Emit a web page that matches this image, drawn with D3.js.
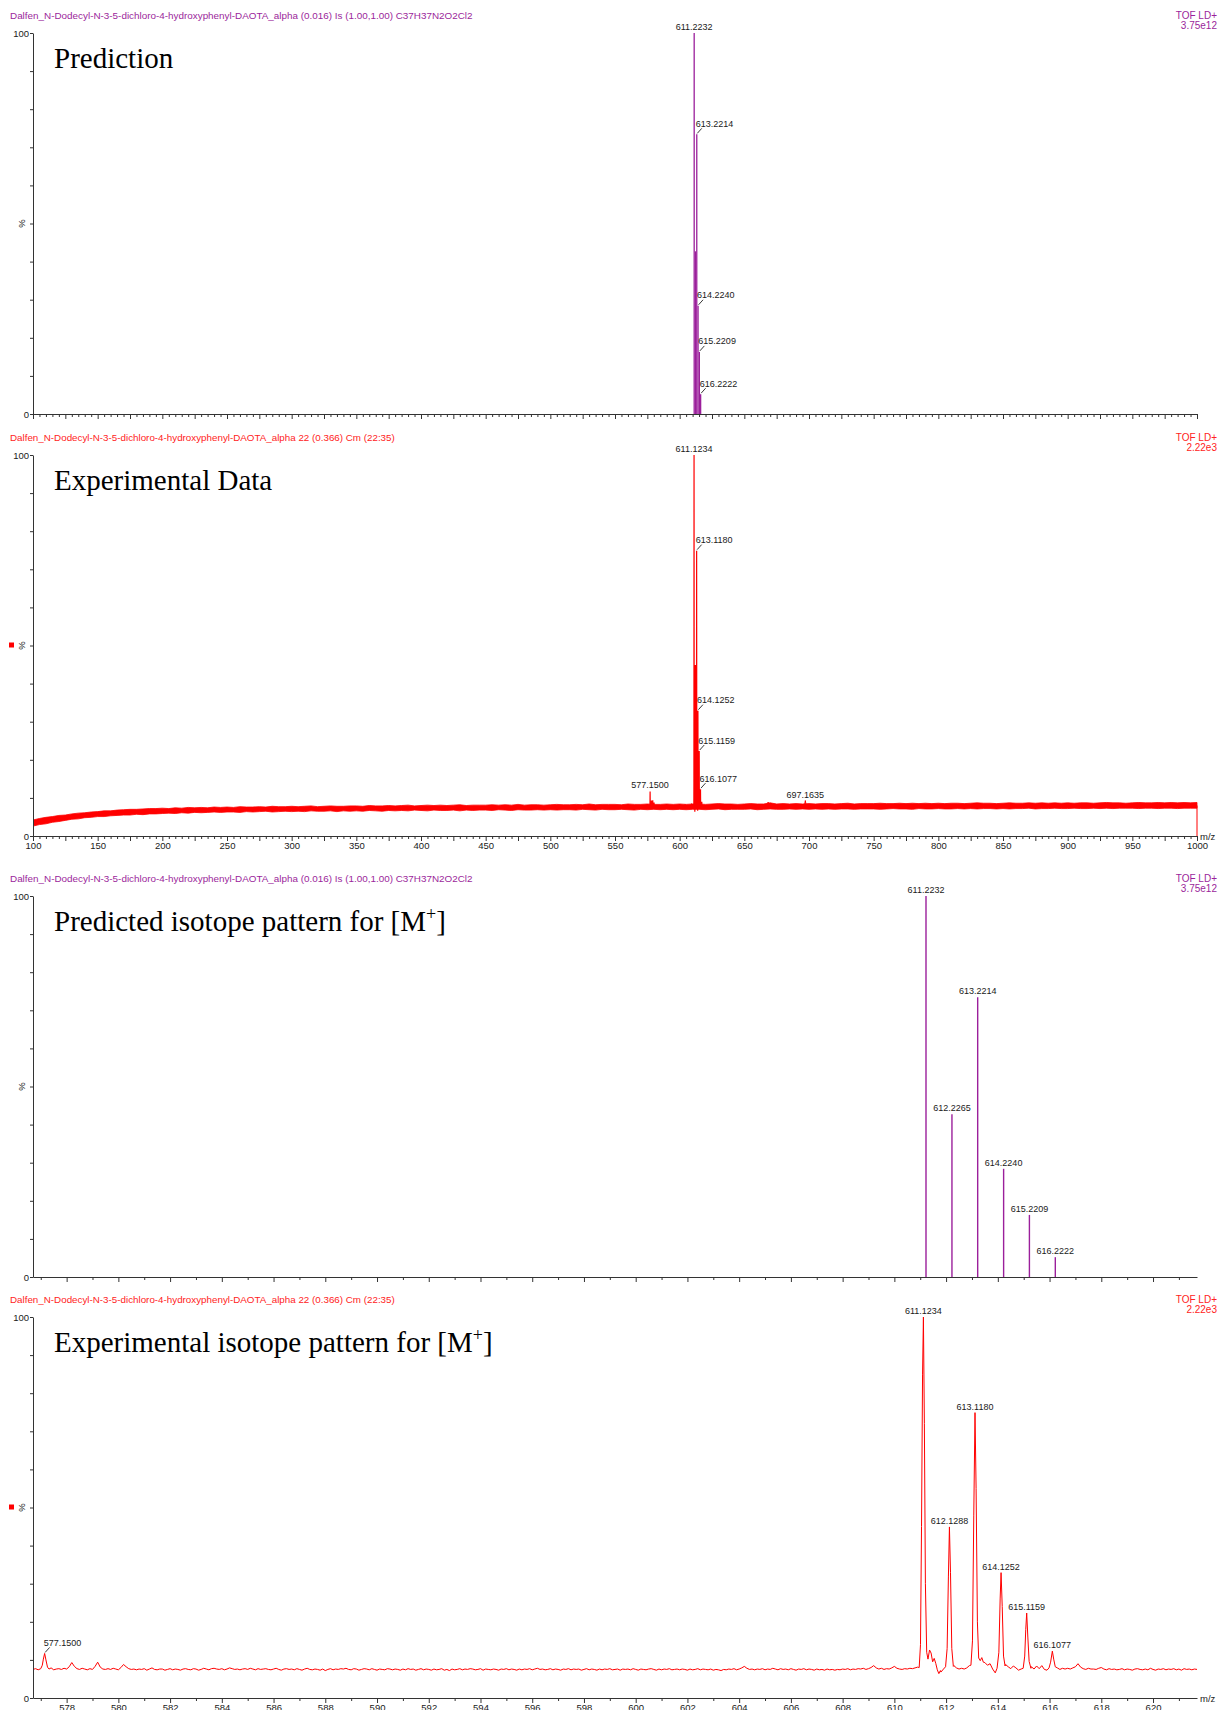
<!DOCTYPE html>
<html><head><meta charset="utf-8">
<script src="https://cdn.jsdelivr.net/npm/d3@7"></script>
<style>
body{margin:0;background:#fff;}
svg{display:block;background:#fff;}
</style>
</head><body>
<svg id="c" width="1219" height="1710"></svg>
<script>
// ---------------- DATA ----------------
const titlePred = "Dalfen_N-Dodecyl-N-3-5-dichloro-4-hydroxyphenyl-DAOTA_alpha  (0.016) Is (1.00,1.00) C37H37N2O2Cl2";
const titleExp = "Dalfen_N-Dodecyl-N-3-5-dichloro-4-hydroxyphenyl-DAOTA_alpha 22 (0.366) Cm (22:35)";
const predInfo = ["TOF LD+", "3.75e12"];
const expInfo = ["TOF LD+", "2.22e3"];
const panelNames = ["Prediction", "Experimental Data", "Predicted isotope pattern for [M", "Experimental isotope pattern for [M"];

const wideDomain = [100, 1000];
const zoomDomain = [576.7, 621.7];
const wideTickLabels = [100,150,200,250,300,350,400,450,500,550,600,650,700,750,800,850,900,950,1000];
const zoomTickLabels = [578,580,582,584,586,588,590,592,594,596,598,600,602,604,606,608,610,612,614,616,618,620];
const yTickValues = [0,10,20,30,40,50,60,70,80,90,100];

// predicted isotope pattern (sticks)
const predMz = [611.2232, 612.2265, 613.2214, 614.2240, 615.2209, 616.2222];
const predInt = [100, 42.7, 73.4, 28.4, 16.3, 5.2];
const predLabel = ["611.2232","612.2265","613.2214","614.2240","615.2209","616.2222"];

// experimental labelled peaks
const expPeakMz = [577.15, 611.1234, 612.1288, 613.1180, 614.1252, 615.1159, 616.1077, 697.1635];
const expPeakInt = [11.7, 100, 44.9, 74.9, 32.9, 22.3, 12.3, 9.3];
const expPeakLabel = ["577.1500","611.1234","612.1288","613.1180","614.1252","615.1159","616.1077","697.1635"];

// label styles per panel: c = centred above, l = leader line
const labelsP1 = {"611.2232":"c","613.2214":"l","614.2240":"l","615.2209":"l","616.2222":"l"};
const labelsP2 = {"577.1500":"c","611.1234":"c","613.1180":"l","614.1252":"l","615.1159":"l","616.1077":"l","697.1635":"c"};
const labelsP3 = {"611.2232":"c","612.2265":"c","613.2214":"c","614.2240":"c","615.2209":"c","616.2222":"c"};
const labelsP4 = {"577.1500":"l","611.1234":"c","612.1288":"c","613.1180":"c","614.1252":"c","615.1159":"c","616.1077":"c"};

// experimental profile, 576.7 .. 621.7 m/z, sampled every 0.1 (baseline noise, % intensity)
const expZoomStart = 576.7, expZoomStep = 0.1;
const expZoomBaseline = [
7.5,7.7,7.4,7.6,7.8,7.5,7.6,7.9,7.4,7.6,
7.7,7.5,7.8,7.6,8.2,9.3,8.3,7.7,7.5,7.8,
7.6,7.4,7.7,7.5,8.3,9.4,8.1,7.6,7.5,7.7,
7.5,7.8,7.6,7.4,8.0,8.8,8.2,7.7,7.5,7.6,
7.4,7.6,7.5,7.7,7.3,7.6,7.9,7.5,7.4,7.6,
7.6,7.3,7.5,7.7,7.4,7.6,7.5,7.3,7.6,7.7,
7.5,7.4,7.7,7.6,7.3,7.5,7.8,7.6,7.4,7.7,
7.8,7.6,7.5,7.7,7.4,7.6,7.9,7.7,7.5,7.6,
7.4,7.6,7.7,7.5,7.8,7.6,7.4,7.7,7.5,7.6,
7.7,7.5,7.4,7.6,7.8,7.5,7.3,7.6,7.7,7.5,
7.6,7.4,7.7,7.5,7.3,7.6,7.8,7.5,7.4,7.6,
7.5,7.3,7.6,7.2,7.5,7.7,7.4,7.6,7.5,7.7,
7.6,7.8,7.5,7.4,7.7,7.6,7.3,7.5,7.7,7.6,
7.4,7.7,7.5,7.3,7.6,7.5,7.4,7.7,7.6,7.4,
7.6,7.5,7.3,7.6,7.4,7.7,7.5,7.6,7.3,7.5,
7.7,7.4,7.6,7.5,7.3,7.6,7.4,7.5,7.7,7.3,
7.5,7.2,7.6,7.4,7.5,7.7,7.4,7.6,7.5,7.7,
7.6,7.4,7.5,7.7,7.3,7.6,7.5,7.4,7.6,7.5,
7.3,7.6,7.5,7.7,7.4,7.6,7.5,7.3,7.6,7.4,
7.6,7.5,7.7,7.4,7.6,7.8,7.5,7.6,7.4,7.5,
7.7,7.4,7.6,7.5,7.3,7.6,7.5,7.7,7.4,7.6,
7.5,7.6,7.3,7.5,7.7,7.4,7.6,7.5,7.3,7.6,
7.4,7.6,7.5,7.7,7.4,7.5,7.6,7.3,7.6,7.5,
7.6,7.4,7.7,7.5,7.3,7.6,7.5,7.4,7.6,7.7,
7.5,7.3,7.6,7.4,7.6,7.5,7.7,7.4,7.5,7.6,
7.4,7.6,7.5,7.3,7.6,7.4,7.5,7.7,7.4,7.6,
7.5,7.4,7.6,7.3,7.5,7.4,7.2,7.5,7.4,7.6,
7.5,7.7,7.4,7.6,7.9,8.3,7.8,7.5,7.6,7.4,
7.6,7.5,7.7,7.4,7.6,7.5,7.8,7.6,7.4,7.7,
7.5,7.6,7.4,7.7,7.5,7.3,7.6,7.5,7.7,7.4,
7.6,7.5,7.3,7.6,7.4,7.5,7.3,7.6,7.4,7.5,
7.3,7.5,7.4,7.6,7.5,7.7,7.4,7.6,7.5,7.7,
7.6,7.8,7.5,7.7,8.0,8.5,7.9,7.6,7.8,7.5,
7.7,7.6,7.9,8.3,7.8,7.6,7.5,7.7,7.6,7.8,
7.7,7.9,8.1,8.4,9.0,10,10,10,10,10,
7.0,6.8,7.6,9.0,40,20,8.5,7.9,7.6,7.8,
7.6,7.9,8.5,9.0,50,17,9.5,10.2,9.3,8.6,
9.0,7.6,6.6,8.5,30,20,8.8,8.2,7.7,8.4,
7.9,7.3,7.6,8.0,20,14,8.2,7.6,8.4,7.7,
8.5,7.5,7.3,8.2,12,10,7.9,7.5,7.8,7.6,
7.8,7.6,7.9,8.2,9.0,8.1,7.7,7.5,7.8,7.6,
7.6,7.5,7.8,8.0,7.6,7.4,7.7,7.5,7.6,7.4,
7.5,7.7,7.4,7.6,7.5,7.3,7.6,7.7,7.5,7.4,
7.6,7.4,7.8,7.5,7.3,7.6,7.5,7.7,7.4,7.6,
7.5,7.7,7.4,7.6,7.3,7.7,7.5,7.6,7.4,7.6,
7.5
];
// resolved peak profiles [m/z, %]
const expPeak577 = [[577.0,7.7],[577.06,8.6],[577.1,10.2],[577.15,11.7],[577.2,10.0],[577.26,8.1],[577.32,7.6]];
const expPeak611 = [[610.96,8.0],[611.01,14],[611.05,45],[611.09,85],[611.1234,100],[611.16,72],[611.2,30],[611.25,12],[611.3,10.2],[611.36,12.6],[611.42,11.8],[611.48,9.5],[611.54,10.4],[611.6,9.1],[611.66,7.4],[611.72,6.4],[611.78,7.2]];
const expPeak612 = [[611.98,8.2],[612.04,13],[612.09,32],[612.1288,44.9],[612.17,33],[612.22,13],[612.28,8.3]];
const expPeak613 = [[612.96,8.6],[613.02,15],[613.07,48],[613.118,74.9],[613.16,55],[613.21,20],[613.26,10.5],[613.32,9.8],[613.38,10.6],[613.44,9.4]];
const expPeak614 = [[613.97,7.8],[614.04,12],[614.09,26],[614.1252,32.9],[614.17,24],[614.22,11],[614.28,8.4]];
const expPeak615 = [[614.98,7.8],[615.04,11],[615.08,18],[615.1159,22.3],[615.16,16],[615.21,9.6],[615.28,7.8]];
const expPeak616 = [[615.98,7.9],[616.04,9.4],[616.1077,12.3],[616.16,10.2],[616.22,8.2]];

// full-range experimental noise band (every 5 m/z from 100 to 1000): lower / upper edge, %
const expFullStart = 100, expFullStep = 5;
const expFullLower = [
2.6,3.0,3.2,3.6,3.8,4.1,4.4,4.5,4.8,4.9,
5.1,5.1,5.3,5.4,5.5,5.5,5.7,5.6,5.8,5.8,
5.9,6.0,5.9,6.1,6.0,6.2,6.1,6.2,6.3,6.2,
6.3,6.3,6.2,6.4,6.3,6.4,6.5,6.3,6.4,6.5,
6.4,6.5,6.4,6.6,6.5,6.5,6.6,6.4,6.6,6.5,
6.6,6.5,6.7,6.6,6.5,6.7,6.6,6.7,6.6,6.8,
6.7,6.6,6.8,6.7,6.7,6.8,6.6,6.8,6.7,6.8,
6.8,6.7,6.9,6.8,6.7,6.9,6.8,6.8,6.9,6.8,
6.9,6.8,6.9,6.9,6.8,7.0,6.9,6.8,7.0,6.9,
6.9,7.0,6.9,6.8,7.0,6.9,7.0,6.9,7.0,6.9,
7.0,6.9,7.0,7.0,6.9,7.0,7.1,6.9,7.0,7.0,
7.0,7.1,6.9,7.0,7.1,7.0,7.0,7.1,7.0,7.1,
7.0,7.1,7.0,7.1,7.0,7.1,7.1,7.0,7.1,7.1,
7.1,7.0,7.1,7.2,7.1,7.1,7.0,7.2,7.1,7.1,
7.2,7.1,7.1,7.2,7.1,7.2,7.1,7.2,7.2,7.1,
7.2,7.1,7.2,7.2,7.3,7.1,7.2,7.2,7.3,7.2,
7.2,7.3,7.2,7.2,7.3,7.2,7.3,7.2,7.3,7.3,
7.3,7.2,7.3,7.3,7.2,7.3,7.3,7.2,7.3,7.3,
7.3];
const expFullUpper = [
4.2,4.6,4.9,5.1,5.4,5.5,5.8,6.0,6.1,6.3,
6.4,6.6,6.6,6.8,6.9,7.0,7.0,7.1,7.2,7.2,
7.3,7.2,7.4,7.3,7.5,7.4,7.5,7.4,7.6,7.5,
7.6,7.5,7.7,7.6,7.6,7.7,7.6,7.8,7.7,7.7,
7.8,7.7,7.8,7.9,7.7,7.8,7.9,7.8,7.8,7.9,
7.9,7.8,8.0,7.9,7.9,8.0,7.9,8.0,8.1,7.9,
8.0,8.1,8.0,8.1,8.0,8.1,8.2,8.0,8.1,8.1,
8.1,8.2,8.1,8.2,8.1,8.3,8.1,8.2,8.2,8.1,
8.2,8.3,8.2,8.2,8.3,8.2,8.4,8.2,8.3,8.3,
8.3,8.2,8.4,8.3,8.3,8.4,8.3,8.3,8.4,8.3,
8.4,8.3,8.4,8.4,8.3,8.4,8.5,8.4,8.4,8.3,
8.4,8.5,8.4,8.4,8.7,8.4,8.5,8.4,8.5,8.4,
8.5,8.4,8.5,8.5,8.4,8.5,8.6,8.4,8.5,8.5,
8.5,8.6,8.5,8.5,8.6,8.5,8.6,8.5,8.6,8.5,
8.6,8.5,8.6,8.6,8.5,8.6,8.7,8.6,8.6,8.5,
8.6,8.7,8.6,8.6,8.7,8.6,8.7,8.6,8.7,8.6,
8.7,8.6,8.7,8.7,8.6,8.7,8.8,8.7,8.7,8.6,
8.7,8.8,8.7,8.7,8.8,8.7,8.8,8.7,8.8,8.7,
8.8];
// isolated spikes above the noise band in the full spectrum [m/z, %]
const expFullSpikes = [[668.4, 8.9], [697.1635, 9.3]];
// signal drops to zero at the end of the acquired range
const expFullEnd = [[1000, 8.0], [1000, 0]];

// ---------------- DRAWING ----------------
const SANS = "'Liberation Sans', Arial, Helvetica, sans-serif";
const SERIF = "'Liberation Serif', 'Times New Roman', serif";
const C_PURPLE = "#9b1f9b", C_RED = "#ff0000", C_RED_T = "#ff2222", C_AXIS = "#333", C_TEXT = "#1a1a1a";
const X0 = 33, X1 = 1197, PH = 381;

const svg = d3.select("#c");

// build experimental zoom profile
const peakGroups = [expPeak577, expPeak611, expPeak612, expPeak613, expPeak614, expPeak615, expPeak616];
let expProfile = expZoomBaseline.map((v, i) => [+(expZoomStart + i * expZoomStep).toFixed(2), v]);
peakGroups.forEach(gr => {
  const lo = gr[0][0], hi = gr[gr.length - 1][0];
  expProfile = expProfile.filter(d => d[0] < lo || d[0] > hi);
  expProfile = expProfile.concat(gr);
});
expProfile.sort((a, b) => a[0] - b[0]);
const expBand = expFullLower.map((lo, i) => ({mz: expFullStart + i * expFullStep, lo, hi: expFullUpper[i]}));

const panels = [
  {top: 33, domain: wideDomain, color: C_PURPLE, titleColor: C_PURPLE, title: titlePred, titleW: 463, info: predInfo, name: panelNames[0], sup: false, marker: false, tickLabels: null, kind: "predWide", labels: labelsP1},
  {top: 455, domain: wideDomain, color: C_RED, titleColor: C_RED_T, title: titleExp, titleW: 385, info: expInfo, name: panelNames[1], sup: false, marker: true, tickLabels: wideTickLabels, kind: "expWide", labels: labelsP2},
  {top: 896, domain: zoomDomain, color: C_PURPLE, titleColor: C_PURPLE, title: titlePred, titleW: 463, info: predInfo, name: panelNames[2], sup: true, marker: false, tickLabels: null, kind: "predZoom", labels: labelsP3},
  {top: 1317, domain: zoomDomain, color: C_RED, titleColor: C_RED_T, title: titleExp, titleW: 385, info: expInfo, name: panelNames[3], sup: true, marker: true, tickLabels: zoomTickLabels, kind: "expZoom", labels: labelsP4}
];

panels.forEach((p, pi) => {
  const g = svg.append("g");
  const x = d3.scaleLinear().domain(p.domain).range([X0, X1]);
  const y = d3.scaleLinear().domain([0, 100]).range([p.top + PH, p.top]);
  const wide = p.domain === wideDomain;

  // title
  const tt = g.append("text").attr("x", 10).attr("y", p.top - 14)
    .attr("fill", p.titleColor).style("font-family", SANS).style("font-size", "10px").text(p.title);
  const w = tt.node().getComputedTextLength();
  if (w > 0) tt.style("font-size", (10 * p.titleW / w).toFixed(2) + "px");

  // info top-right
  p.info.forEach((s, k) => {
    g.append("text").attr("x", 1217).attr("y", p.top - 14 + k * 9.5).attr("text-anchor", "end")
      .attr("fill", p.titleColor).style("font-family", SANS).style("font-size", "10px").text(s);
  });

  // big annotation
  const bt = g.append("text").attr("x", 54).attr("y", p.top + 35)
    .style("font-family", SERIF).style("font-size", "29px").attr("fill", "#000").text(p.name);
  if (p.sup) {
    bt.append("tspan").attr("dy", -11).style("font-size", "18px").text("+");
    bt.append("tspan").attr("dy", 11).text("]");
  }

  // clip
  const cid = "clip" + pi;
  svg.append("clipPath").attr("id", cid).append("rect")
    .attr("x", X0).attr("y", p.top - 30).attr("width", X1 - X0 + 1).attr("height", PH + 30);
  const dg = g.append("g").attr("clip-path", `url(#${cid})`);

  // data
  if (p.kind === "predWide" || p.kind === "predZoom") {
    dg.selectAll("line.stick").data(predMz).join("line").attr("class", "stick")
      .attr("x1", d => x(d)).attr("x2", d => x(d))
      .attr("y1", y(0)).attr("y2", (d, i) => y(predInt[i]))
      .attr("stroke", C_PURPLE).attr("stroke-width", p.kind === "predWide" ? 1.3 : 1.4);
  } else {
    const lineGen = d3.line().x(d => x(d[0])).y(d => y(d[1]));
    if (p.kind === "expWide") {
      const area = d3.area().x(d => x(d.mz)).y0(d => y(d.lo)).y1(d => y(d.hi));
      dg.append("path").datum(expBand).attr("d", area).attr("fill", C_RED).attr("stroke", C_RED).attr("stroke-width", 0.8);
      expFullSpikes.forEach(s => {
        dg.append("path").datum([[s[0] - 0.8, 7.6], [s[0], s[1]], [s[0] + 0.8, 7.6]])
          .attr("d", lineGen).attr("fill", "none").attr("stroke", C_RED).attr("stroke-width", 1);
      });
      dg.append("path").datum(expFullEnd).attr("d", lineGen).attr("fill", "none").attr("stroke", C_RED).attr("stroke-width", 1);
    }
    dg.append("path").datum(expProfile).attr("d", lineGen).attr("fill", "none")
      .attr("stroke", C_RED).attr("stroke-width", p.kind === "expWide" ? 1.2 : 1);
  }

  // y axis
  const ya = g.append("g").attr("transform", `translate(${X0},0)`)
    .call(d3.axisLeft(y).tickValues(yTickValues).tickSize(3).tickSizeOuter(0).tickPadding(1)
      .tickFormat(d => (d === 0 || d === 100) ? d : ""));
  g.append("text").attr("transform", `translate(${X0 - 8},${p.top + PH / 2}) rotate(-90)`)
    .attr("text-anchor", "middle").attr("fill", C_TEXT).style("font-family", SANS).style("font-size", "9.5px").text("%");
  if (p.marker) {
    g.append("rect").attr("x", 9).attr("y", p.top + PH / 2 - 3).attr("width", 5).attr("height", 5).attr("fill", C_RED);
  }

  // x axis
  const minor = [], major = [];
  if (wide) {
    for (let v = 100; v <= 1000; v += 5) (v % 25 === 0 ? major : minor).push(v);
  } else {
    for (let v = 577; v <= 621; v += 1) (v % 2 === 0 ? major : minor).push(v);
  }
  const xa = g.append("g").attr("transform", `translate(0,${p.top + PH})`);
  xa.append("g").call(d3.axisBottom(x).tickValues(minor).tickSize(3).tickSizeOuter(0).tickFormat(""));
  const labSet = new Set(p.tickLabels || []);
  xa.append("g").call(d3.axisBottom(x).tickValues(major).tickSize(5).tickSizeOuter(0).tickPadding(1)
      .tickFormat(d => labSet.has(d) ? d : ""))
    .select(".domain").remove();
  if (p.tickLabels) {
    g.append("text").attr("x", X1 + 3).attr("y", p.top + PH + 4).attr("fill", C_TEXT)
      .style("font-family", SANS).style("font-size", "9.5px").text("m/z");
  }
  [ya, xa].forEach(a => {
    a.selectAll("path,line").attr("stroke", C_AXIS).attr("stroke-width", 1);
    a.selectAll("text").attr("fill", C_TEXT).style("font-family", SANS).style("font-size", "9.5px");
  });

  // peak labels
  const isPred = p.kind.startsWith("pred");
  const mzArr = isPred ? predMz : expPeakMz, intArr = isPred ? predInt : expPeakInt, labArr = isPred ? predLabel : expPeakLabel;
  labArr.forEach((lab, i) => {
    const st = p.labels[lab];
    if (!st) return;
    const px = x(mzArr[i]), py = y(intArr[i]);
    if (st === "c") {
      g.append("text").attr("x", px).attr("y", py - 3).attr("text-anchor", "middle")
        .attr("fill", C_TEXT).style("font-family", SANS).style("font-size", "9px").text(lab);
    } else {
      g.append("line").attr("x1", px + 0.5).attr("y1", py - 1).attr("x2", px + 5).attr("y2", py - 6)
        .attr("stroke", "#222").attr("stroke-width", 0.9);
      g.append("text").attr("x", px - 1).attr("y", py - 7.5).attr("text-anchor", "start")
        .attr("fill", C_TEXT).style("font-family", SANS).style("font-size", "9px").text(lab);
    }
  });
});
</script>
</body></html>
